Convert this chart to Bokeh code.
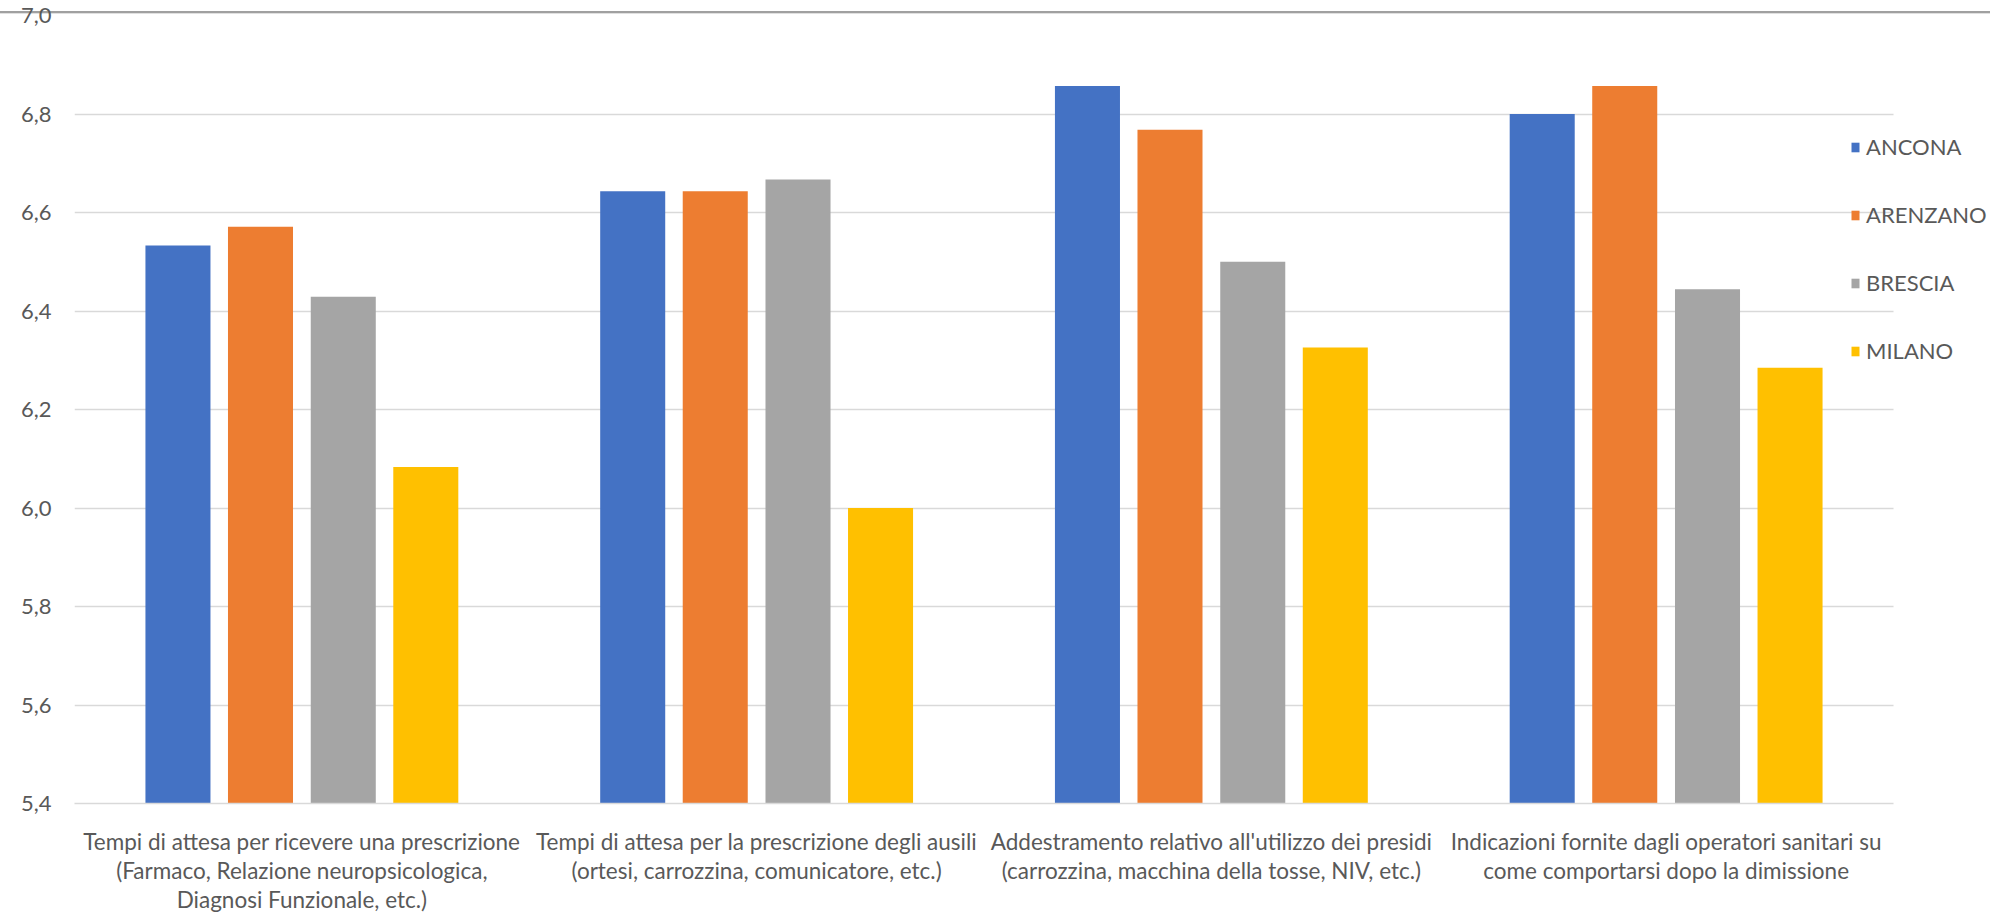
from bokeh.plotting import figure
from bokeh.models import ColumnDataSource, Range1d, FixedTicker, CustomJSTickFormatter
from bokeh.transform import dodge
from bokeh.embed import file_html
from bokeh.resources import INLINE

categories = [
    "Tempi di attesa per ricevere una prescrizione\n(Farmaco, Relazione neuropsicologica,\nDiagnosi Funzionale, etc.)",
    "Tempi di attesa per la prescrizione degli ausili\n(ortesi, carrozzina, comunicatore, etc.)",
    "Addestramento relativo all'utilizzo dei presidi\n(carrozzina, macchina della tosse, NIV, etc.)",
    "Indicazioni fornite dagli operatori sanitari su\ncome comportarsi dopo la dimissione",
]
series_names = ["ANCONA", "ARENZANO", "BRESCIA", "MILANO"]
ancona = [6.533, 6.643, 6.857, 6.800]
arenzano = [6.571, 6.643, 6.768, 6.857]
brescia = [6.429, 6.667, 6.500, 6.444]
milano = [6.083, 6.000, 6.326, 6.285]
colors = ["#4472C4", "#ED7D31", "#A5A5A5", "#FFC000"]
y_ticks = [5.4, 5.6, 5.8, 6.0, 6.2, 6.4, 6.6, 6.8, 7.0]

FONT = "Lato"
TXT = "#595959"

n = len(categories)
xc = [i + 0.5 for i in range(n)]
src = ColumnDataSource(dict(xc=xc, ANCONA=ancona, ARENZANO=arenzano,
                            BRESCIA=brescia, MILANO=milano))

W, H = 1990, 916
LEFT, TOP, FRAME_H = 74, 15, 788
frame_w = W - LEFT
cat_w = 1819.0
p = figure(width=W, height=H, x_range=Range1d(0, n * frame_w / cat_w),
           y_range=Range1d(5.4, 7.0), output_backend="svg", toolbar_location=None,
           min_border_left=LEFT, min_border_right=0, min_border_top=TOP,
           min_border_bottom=H - TOP - FRAME_H,
           styles={"box-shadow": "inset 0 11px 0 0 #FFFFFF, inset 0 13px 0 0 #A0A0A0, inset 0 14px 0 0 #E0E0E0"})
p.outline_line_color = None
p.border_fill_color = None
p.background_fill_color = None

offsets = [-0.2725, -0.091, 0.091, 0.2725]
for name, col, off in zip(series_names, colors, offsets):
    p.vbar(x=dodge("xc", off), top=name, bottom=5.4, width=0.143,
           source=src, color=col, line_color=None, legend_label=name)

p.xgrid.grid_line_color = None
p.ygrid.grid_line_color = "#D9D9D9"
p.ygrid.grid_line_width = 1.5
p.ygrid.cross_bounds = (0, n)
p.yaxis.ticker = FixedTicker(ticks=y_ticks)
p.yaxis.formatter = CustomJSTickFormatter(code="return tick.toFixed(1).replace('.', ',');")
p.yaxis.axis_line_color = None
p.yaxis.major_tick_line_color = None
p.yaxis.minor_tick_line_color = None
p.yaxis.major_tick_out = 0
p.yaxis.major_label_standoff = 23
p.yaxis.major_label_text_font = FONT
p.yaxis.major_label_text_font_size = "22px"
p.yaxis.major_label_text_color = TXT

p.xaxis.ticker = FixedTicker(ticks=xc)
p.xaxis.formatter = CustomJSTickFormatter(args=dict(labels=categories),
                                          code="return labels[Math.floor(tick)];")
p.xaxis.bounds = (0, n)
p.xaxis.axis_line_color = "#D9D9D9"
p.xaxis.axis_line_width = 1.5
p.xaxis.major_tick_line_color = None
p.xaxis.minor_tick_line_color = None
p.xaxis.major_tick_out = 0
p.xaxis.major_label_standoff = 24
p.xaxis.major_label_text_font = FONT
p.xaxis.major_label_text_font_size = "22.5px"
p.xaxis.major_label_text_color = TXT
p.xaxis.major_label_text_line_height = 1.08

lg = p.legend[0]
lg.location = (1776, 439)
lg.padding = 0
lg.margin = 0
lg.border_line_color = None
lg.background_fill_alpha = 0
lg.glyph_width = 10
lg.glyph_height = 12
lg.label_height = 26
lg.spacing = 41
lg.label_standoff = 6
lg.label_text_font = FONT
lg.label_text_font_size = "22px"
lg.label_text_color = TXT

open("out.html", "w").write(file_html(p, INLINE))
